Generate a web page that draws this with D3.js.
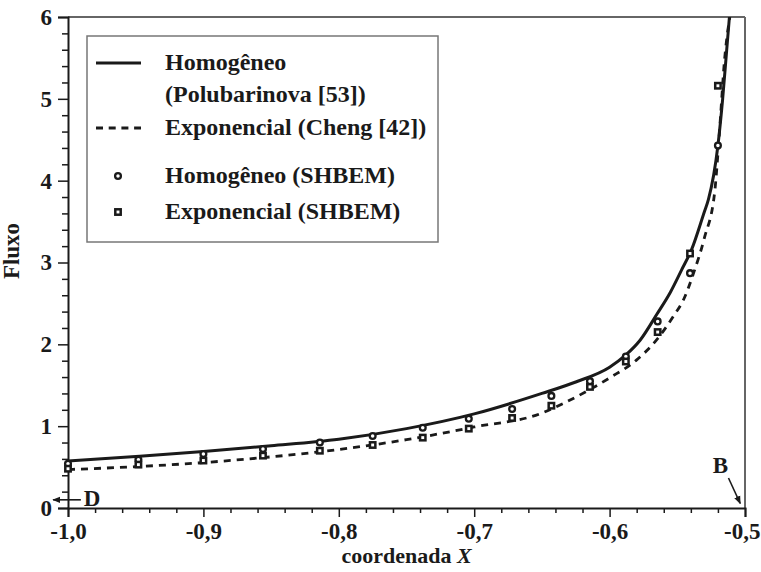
<!DOCTYPE html>
<html>
<head>
<meta charset="utf-8">
<script src="https://cdn.jsdelivr.net/npm/d3@7"></script>
<style>
  html, body { margin: 0; padding: 0; background: #fff; }
  svg { display: block; }
  text { font-family: "Liberation Serif", "Times New Roman", serif; font-weight: bold; fill: #1a1a1a; }
</style>
</head>
<body>
<svg id="chart" width="761" height="572"></svg>
<script>
// Analytical curves: flux along the boundary
const homX = [-1.0, -0.95, -0.9, -0.85, -0.8, -0.75, -0.7, -0.65, -0.625, -0.6, -0.588, -0.5775, -0.565, -0.555, -0.5468, -0.5394, -0.53, -0.527, -0.52, -0.5165, -0.5135, -0.5115];
const homY = [0.575, 0.63, 0.69, 0.76, 0.84, 0.97, 1.15, 1.40, 1.54, 1.72, 1.87, 2.05, 2.37, 2.64, 2.91, 3.16, 3.62, 3.77, 4.43, 5.0, 5.6, 6.0];

const expX = [-1.0, -0.95, -0.9, -0.85, -0.8, -0.75, -0.7, -0.65, -0.634, -0.6, -0.58, -0.565, -0.553, -0.545, -0.538, -0.53, -0.5222, -0.5205, -0.518, -0.5155, -0.5112];
const expY = [0.47, 0.505, 0.555, 0.625, 0.715, 0.835, 0.99, 1.16, 1.28, 1.59, 1.81, 2.06, 2.34, 2.56, 2.87, 3.3, 3.89, 4.22, 4.8, 5.4, 6.0];

// SHBEM nodal results
const bemX = [-1.0, -0.948, -0.9, -0.856, -0.814, -0.775, -0.738, -0.704, -0.672, -0.643, -0.6145, -0.588, -0.5645, -0.5406, -0.520];
const bemHom = [0.54, 0.59, 0.66, 0.72, 0.80, 0.88, 0.98, 1.09, 1.21, 1.37, 1.55, 1.85, 2.28, 2.87, 4.43];
const bemExp = [0.48, 0.53, 0.58, 0.64, 0.70, 0.77, 0.86, 0.97, 1.10, 1.25, 1.48, 1.79, 2.15, 3.11, 5.16];

// Axis ticks
const xTicks = [-1.0, -0.9, -0.8, -0.7, -0.6, -0.5];
const xTickLabels = ["-1,0", "-0,9", "-0,8", "-0,7", "-0,6", "-0,5"];
const yTicks = [0, 1, 2, 3, 4, 5, 6];
const yTickLabels = ["0", "1", "2", "3", "4", "5", "6"];

// Legend entries
const legendLabels = [
  ["Homogêneo", "(Polubarinova [53])"],
  ["Exponencial (Cheng [42])"],
  ["Homogêneo (SHBEM)"],
  ["Exponencial (SHBEM)"]
];

// End-point annotations (label, arrow start, arrow end) in data units
const endLabels = ["D", "B"];
const endArrowFrom = [[-0.9905, 0.1], [-0.5122, 0.367]];
const endArrowTo = [[-1.011, 0.1], [-0.5035, 0.055]];

const svg = d3.select("#chart");
const plotL = 68, plotR = 745, plotT = 17, plotB = 508;

const x = d3.scaleLinear().domain([-1.0, -0.5]).range([plotL, plotR]);
const y = d3.scaleLinear().domain([0, 6]).range([plotB, plotT]);

const defs = svg.append("defs");
defs.append("clipPath").attr("id", "plotClip")
  .append("rect").attr("x", plotL).attr("y", plotT)
  .attr("width", plotR - plotL).attr("height", plotB - plotT);

defs.append("marker")
  .attr("id", "arrowHead").attr("viewBox", "0 0 10 10")
  .attr("refX", 9).attr("refY", 5)
  .attr("markerWidth", 5).attr("markerHeight", 5)
  .attr("markerUnits", "strokeWidth")
  .attr("orient", "auto")
  .append("path").attr("d", "M0,1 L10,5 L0,9 Z").attr("fill", "#1a1a1a");

// Frame: top and right edges
svg.append("line").attr("x1", plotL).attr("x2", plotR).attr("y1", plotT).attr("y2", plotT)
  .attr("stroke", "#333").attr("stroke-width", 1.5);
svg.append("line").attr("x1", plotR).attr("x2", plotR).attr("y1", plotT).attr("y2", plotB)
  .attr("stroke", "#666").attr("stroke-width", 2);

// Minor ticks
const xMinor = d3.range(-1.0, -0.4999, 0.02).filter(v => Math.abs(Math.round(v * 10) - v * 10) > 1e-6);
const yMinor = d3.range(0, 6.0001, 0.2).filter(v => Math.abs(Math.round(v) - v) > 1e-6);

const gxMinor = svg.append("g").attr("transform", `translate(0,${plotB})`)
  .call(d3.axisBottom(x).tickValues(xMinor).tickSize(5).tickFormat(""));
const gyMinor = svg.append("g").attr("transform", `translate(${plotL},0)`)
  .call(d3.axisLeft(y).tickValues(yMinor).tickSize(6).tickFormat(""));
[gxMinor, gyMinor].forEach(g => {
  g.select(".domain").remove();
  g.selectAll(".tick line").attr("stroke", "#1a1a1a").attr("stroke-width", 1.5);
});

// Major axes
const gx = svg.append("g").attr("transform", `translate(0,${plotB})`)
  .call(d3.axisBottom(x).tickValues(xTicks).tickSize(9).tickPadding(6)
    .tickFormat((d, i) => xTickLabels[i]));
const gy = svg.append("g").attr("transform", `translate(${plotL},0)`)
  .call(d3.axisLeft(y).tickValues(yTicks).tickSize(10).tickPadding(6)
    .tickFormat((d, i) => yTickLabels[i]));
[gx, gy].forEach(g => {
  g.select(".domain").attr("stroke", "#1a1a1a").attr("stroke-width", 2);
  g.selectAll(".tick line").attr("stroke", "#1a1a1a").attr("stroke-width", 1.5);
  g.selectAll(".tick text").attr("fill", "#1a1a1a")
    .style("font-family", '"Liberation Serif", "Times New Roman", serif')
    .style("font-weight", "bold").style("font-size", "23px");
});
// keep the last x label inside the page edge
gx.selectAll(".tick text").filter((d, i) => i === xTicks.length - 1)
  .attr("text-anchor", "end").attr("dx", "15px");

// Curves
const lineGen = d3.line().x(d => x(d[0])).y(d => y(d[1])).curve(d3.curveMonotoneX);
const plot = svg.append("g").attr("clip-path", "url(#plotClip)");

plot.append("path")
  .datum(expX.map((v, i) => [v, expY[i]]))
  .attr("d", lineGen).attr("fill", "none")
  .attr("stroke", "#1a1a1a").attr("stroke-width", 2.8)
  .attr("stroke-dasharray", "7,6");

plot.append("path")
  .datum(homX.map((v, i) => [v, homY[i]]))
  .attr("d", lineGen).attr("fill", "none")
  .attr("stroke", "#1a1a1a").attr("stroke-width", 3);

// SHBEM markers
const circleR = 2.9, circleW = 2.3, squareS = 5.4, squareW = 2.5;
svg.append("g").selectAll("circle")
  .data(bemX.map((v, i) => [v, bemHom[i]]))
  .join("circle")
  .attr("cx", d => x(d[0])).attr("cy", d => y(d[1])).attr("r", circleR)
  .attr("fill", "#fff").attr("stroke", "#1a1a1a").attr("stroke-width", circleW);

svg.append("g").selectAll("rect")
  .data(bemX.map((v, i) => [v, bemExp[i]]))
  .join("rect")
  .attr("x", d => x(d[0]) - squareS / 2).attr("y", d => y(d[1]) - squareS / 2)
  .attr("width", squareS).attr("height", squareS)
  .attr("fill", "#fff").attr("stroke", "#1a1a1a").attr("stroke-width", squareW);

// Legend
const lg = svg.append("g");
lg.append("rect").attr("x", 87).attr("y", 36).attr("width", 351).attr("height", 206)
  .attr("fill", "#fff").attr("stroke", "#777").attr("stroke-width", 1.5);

const legendRowY = [63, 128, 176, 212];
const textX = 165;
legendLabels.forEach((lines, i) => {
  lines.forEach((t, j) => {
    lg.append("text").attr("x", textX).attr("y", legendRowY[i] + 7 + j * 32)
      .style("font-size", "24px").text(t);
  });
});
lg.append("line").attr("x1", 96).attr("x2", 141).attr("y1", legendRowY[0]).attr("y2", legendRowY[0])
  .attr("stroke", "#1a1a1a").attr("stroke-width", 3);
lg.append("line").attr("x1", 96).attr("x2", 141).attr("y1", legendRowY[1]).attr("y2", legendRowY[1])
  .attr("stroke", "#1a1a1a").attr("stroke-width", 2.8).attr("stroke-dasharray", "7,5.7");
lg.append("circle").attr("cx", 118).attr("cy", legendRowY[2]).attr("r", circleR)
  .attr("fill", "#fff").attr("stroke", "#1a1a1a").attr("stroke-width", circleW);
lg.append("rect").attr("x", 118 - squareS / 2).attr("y", legendRowY[3] - squareS / 2)
  .attr("width", squareS).attr("height", squareS)
  .attr("fill", "#fff").attr("stroke", "#1a1a1a").attr("stroke-width", squareW);

// End-point annotations
endLabels.forEach((lab, i) => {
  svg.append("line")
    .attr("x1", x(endArrowFrom[i][0])).attr("y1", y(endArrowFrom[i][1]))
    .attr("x2", x(endArrowTo[i][0])).attr("y2", y(endArrowTo[i][1]))
    .attr("stroke", "#1a1a1a").attr("stroke-width", 1.6)
    .attr("marker-end", "url(#arrowHead)");
});
svg.append("text").attr("x", x(endArrowFrom[0][0]) + 3).attr("y", y(endArrowFrom[0][1]) + 6)
  .style("font-size", "23px").text(endLabels[0]);
svg.append("text").attr("x", x(endArrowFrom[1][0]) - 8).attr("y", y(endArrowFrom[1][1]) - 5)
  .attr("text-anchor", "middle").style("font-size", "23px").text(endLabels[1]);

// Axis titles
svg.append("text").attr("transform", `translate(19,251) rotate(-90)`)
  .attr("text-anchor", "middle").style("font-size", "23px").text("Fluxo");
const xt = svg.append("text").attr("x", (plotL + plotR) / 2).attr("y", 563)
  .attr("text-anchor", "middle").style("font-size", "22px");
xt.append("tspan").text("coordenada ");
xt.append("tspan").style("font-style", "italic").text("X");
</script>
</body>
</html>
